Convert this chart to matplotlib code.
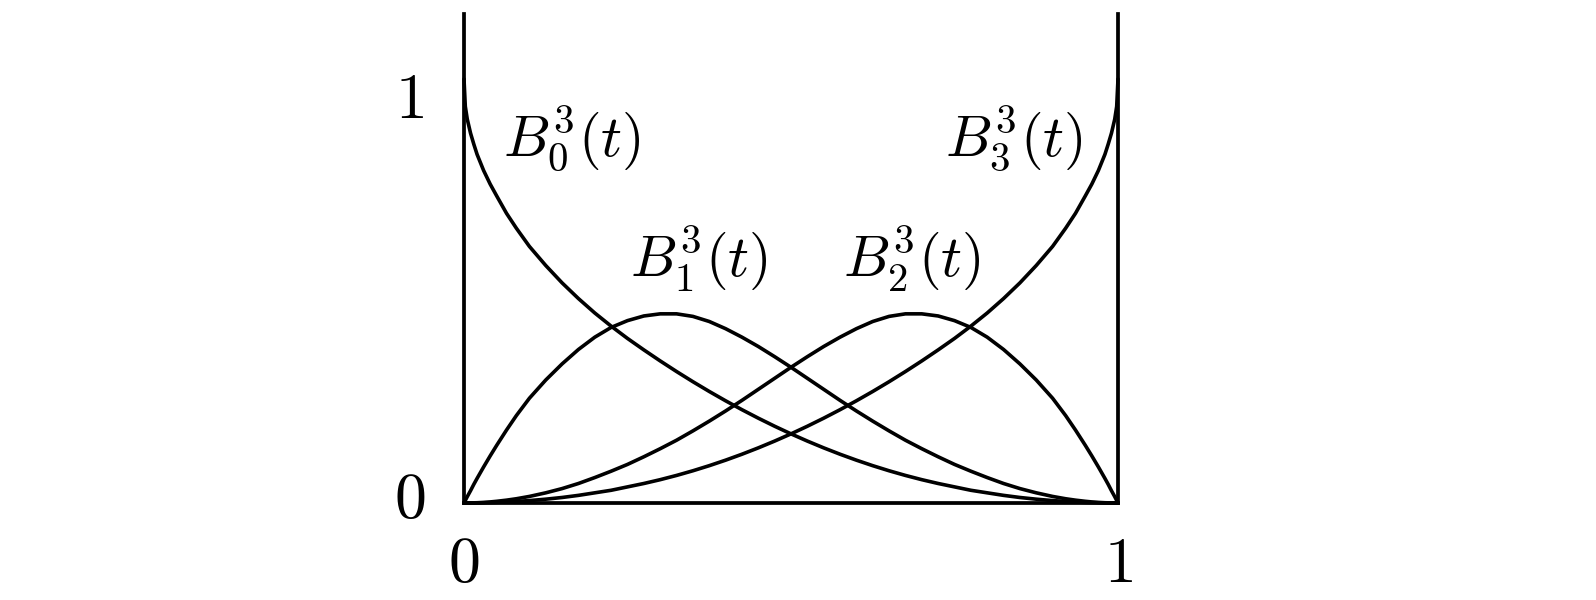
import numpy as np
import matplotlib
matplotlib.use('Agg')
import matplotlib.pyplot as plt

plt.rcParams['mathtext.fontset'] = 'cm'
plt.rcParams['font.family'] = ['DejaVu Serif']

t = [0, 0.002, 0.005, 0.01, 0.015, 0.02, 0.03, 0.04, 0.05, 0.065, 0.08,
     0.1, 0.125, 0.15, 0.175, 0.2, 0.225, 0.25, 0.275, 0.3, 0.325, 0.35, 0.375,
     0.4, 0.425, 0.45, 0.475, 0.5, 0.525, 0.55, 0.575, 0.6, 0.625, 0.65, 0.675,
     0.7, 0.725, 0.75, 0.775, 0.8, 0.825, 0.85, 0.875, 0.9,
     0.92, 0.935, 0.95, 0.96, 0.97, 0.98, 0.985, 0.99, 0.995, 0.998, 1.0]

# read values of the four curves
b0 = [1.0, 0.935, 0.905, 0.872, 0.846, 0.822, 0.784, 0.752, 0.724, 0.683, 0.648,
      0.605, 0.560, 0.519, 0.482, 0.448, 0.417, 0.388, 0.361, 0.335, 0.310, 0.286, 0.263,
      0.241, 0.220, 0.200, 0.181, 0.163, 0.146, 0.130, 0.115, 0.101, 0.088, 0.076, 0.065,
      0.055, 0.046, 0.038, 0.030, 0.024, 0.018, 0.013, 0.009, 0.0057,
      0.0037, 0.0024, 0.0014, 0.0009, 0.0005, 0.0002, 0.0001, 0.0001, 0.0, 0.0, 0.0]
b1 = [0.0, 0.006, 0.015, 0.029, 0.044, 0.058, 0.085, 0.111, 0.136, 0.172, 0.206,
      0.247, 0.290, 0.328, 0.362, 0.391, 0.414, 0.430, 0.441, 0.446, 0.446, 0.440, 0.428,
      0.411, 0.391, 0.369, 0.345, 0.320, 0.294, 0.268, 0.242, 0.217, 0.193, 0.170, 0.148,
      0.128, 0.109, 0.091, 0.075, 0.060, 0.046, 0.034, 0.024, 0.0155,
      0.010, 0.0067, 0.004, 0.0025, 0.0014, 0.0006, 0.0004, 0.0002, 0.0, 0.0, 0.0]
b2 = [0.0, 0.0, 0.0, 0.0002, 0.0004, 0.0006, 0.0014, 0.0025, 0.004, 0.0067, 0.010,
      0.0155, 0.024, 0.034, 0.046, 0.060, 0.075, 0.091, 0.109, 0.128, 0.148, 0.170, 0.193,
      0.217, 0.242, 0.268, 0.294, 0.320, 0.345, 0.369, 0.391, 0.411, 0.428, 0.440, 0.446,
      0.446, 0.441, 0.430, 0.414, 0.391, 0.362, 0.328, 0.290, 0.247,
      0.206, 0.172, 0.136, 0.111, 0.085, 0.058, 0.044, 0.029, 0.015, 0.006, 0.0]
b3 = [0.0, 0.0, 0.0, 0.0001, 0.0001, 0.0002, 0.0005, 0.0009, 0.0014, 0.0024, 0.0037,
      0.0057, 0.009, 0.013, 0.018, 0.024, 0.030, 0.038, 0.046, 0.055, 0.065, 0.076, 0.088,
      0.101, 0.115, 0.130, 0.146, 0.163, 0.181, 0.200, 0.220, 0.241, 0.263, 0.286, 0.310,
      0.335, 0.361, 0.388, 0.417, 0.448, 0.482, 0.519, 0.560, 0.605,
      0.648, 0.683, 0.724, 0.752, 0.784, 0.822, 0.846, 0.872, 0.905, 0.935, 1.0]

labels = [r'$B_0^3(t)$', r'$B_1^3(t)$', r'$B_2^3(t)$', r'$B_3^3(t)$']
label_pos = [(0.165, 0.816), (0.359, 0.533), (0.685, 0.533), (0.841, 0.816)]

fig = plt.figure(figsize=(15.96, 6.0), dpi=100)
ax = fig.add_axes([464 / 1596, 97 / 600, 654 / 1596, 489 / 600])

for y in [b0, b1, b2, b3]:
    ax.plot(t, y, color='black', lw=2.6, solid_joinstyle='round',
            solid_capstyle='round', clip_on=False)

for lab, (x, y) in zip(labels, label_pos):
    ax.text(x, y, lab, fontsize=42, ha='center', va='baseline')

ax.set_xlim(0, 1)
ax.set_ylim(0, 1.153)
ax.spines['top'].set_visible(False)
for s in ['left', 'right', 'bottom']:
    ax.spines[s].set_linewidth(2.7)
ax.set_xticks([])
ax.set_yticks([])

# tick numbers placed by hand, like in the picture
ax.text(-0.083, 0.005, r'$0$', fontsize=46, ha='center', va='center')
ax.text(-0.083, 0.95, r'$1$', fontsize=46, ha='center', va='center')
ax.text(0.0, -0.144, r'$0$', fontsize=46, ha='center', va='center')
ax.text(1.0, -0.144, r'$1$', fontsize=46, ha='center', va='center')

plt.savefig('out.png', dpi=100)
